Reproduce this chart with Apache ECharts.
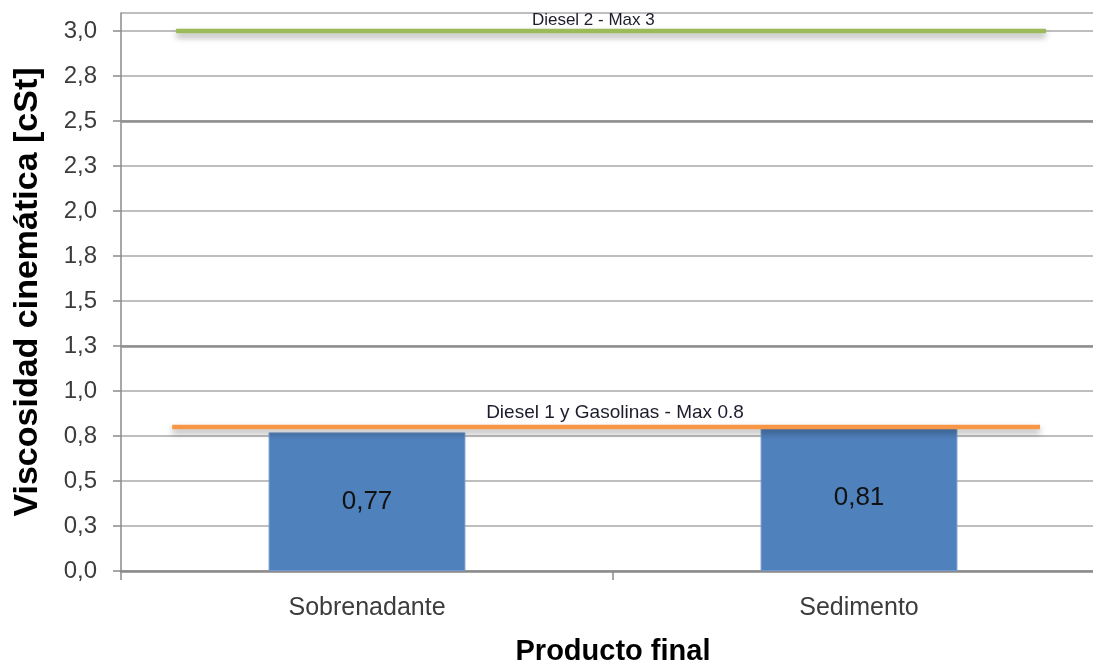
<!DOCTYPE html>
<html>
<head>
<meta charset="utf-8">
<script src="https://cdn.jsdelivr.net/npm/echarts@6/dist/echarts.min.js"></script>
<style>
  html, body { margin: 0; padding: 0; background: #ffffff; }
  #chart { width: 1093px; height: 664px; }
</style>
</head>
<body>
<div id="chart"></div>
<script>
// Kinematic viscosity of the final product fractions
const categories = ['Sobrenadante', 'Sedimento'];
const viscosity = [0.77, 0.81];

// Y-axis tick labels (0.25 steps, shown with one decimal)
const yTickStep = 0.25;
const yTickLabels = ['0,0', '0,3', '0,5', '0,8', '1,0', '1,3', '1,5', '1,8', '2,0', '2,3', '2,5', '2,8', '3,0'];

// Specification limits
const limitNames = ['Diesel 1 y Gasolinas - Max 0.8', 'Diesel 2 - Max 3'];
const limitValues = [0.8, 3];

const FONT = '"Liberation Sans", Arial, sans-serif';
const limitColors = ['#F79646', '#9BBB59'];
// horizontal span of each limit line and label anchor, as fractions of the plot width
const limitSpan = [[0.052, 0.934, 0.502], [0.056, 0.940, 0.480]];
const limitLabelFont = [19, 17];
const limitLabelGap = [5, 2];

const limitSeries = limitValues.map((v, i) => ({
  type: 'line',
  xAxisIndex: 1,
  yAxisIndex: 0,
  symbol: 'none',
  silent: true,
  z: 5,
  data: [[limitSpan[i][0], v], [limitSpan[i][1], v]],
  lineStyle: {
    color: limitColors[i],
    width: 4.5,
    shadowColor: 'rgba(0,0,0,0.35)',
    shadowBlur: 6,
    shadowOffsetY: 4
  },
  markPoint: {
    silent: true,
    symbol: 'circle',
    symbolSize: 0,
    data: [{
      coord: [limitSpan[i][2], v],
      label: {
        show: true,
        position: 'top',
        distance: limitLabelGap[i],
        formatter: limitNames[i],
        fontFamily: FONT,
        fontSize: limitLabelFont[i],
        color: '#1c1c2c'
      }
    }]
  }
}));

const chart = echarts.init(document.getElementById('chart'), null, { renderer: 'canvas' });

chart.setOption({
  backgroundColor: '#ffffff',
  animation: false,
  grid: { left: 121, width: 984, top: 13, bottom: 93, containLabel: false, outerBoundsMode: 'none' },
  xAxis: [{
    type: 'category',
    data: categories,
    name: 'Producto final',
    nameLocation: 'middle',
    nameGap: 66,
    nameTextStyle: { fontFamily: FONT, fontSize: 29, fontWeight: 'bold', color: '#000000' },
    axisLine: { lineStyle: { color: '#8a8a8a', width: 2.5 } },
    axisTick: { show: true, length: 9, lineStyle: { color: '#8a8a8a', width: 1.5 } },
    axisLabel: { fontFamily: FONT, fontSize: 25, color: '#3c3c3c', margin: 25 },
    splitLine: { show: false }
  }, {
    type: 'value',
    min: 0,
    max: 1,
    show: false
  }],
  yAxis: {
    type: 'value',
    min: 0,
    max: 3.1,
    interval: yTickStep,
    name: 'Viscosidad cinemática [cSt]',
    nameLocation: 'middle',
    nameGap: 76,
    nameTextStyle: { fontFamily: FONT, fontSize: 34, fontWeight: 'bold', color: '#000000' },
    axisLine: { show: true, lineStyle: { color: '#8a8a8a', width: 1.5 } },
    axisTick: { show: true, length: 8, lineStyle: { color: '#8a8a8a', width: 1.5 } },
    axisLabel: {
      fontFamily: FONT,
      fontSize: 24,
      color: '#3c3c3c',
      margin: 24,
      showMaxLabel: false,
      formatter: v => {
        const idx = Math.round(v / yTickStep);
        return Math.abs(idx * yTickStep - v) < 1e-6 && idx < yTickLabels.length ? yTickLabels[idx] : '';
      }
    },
    splitLine: { show: true, lineStyle: { color: '#a9a9a9', width: 1.5 } }
  },
  series: [{
    type: 'bar',
    data: viscosity,
    barWidth: '40%',
    itemStyle: { color: '#4F81BD', borderColor: '#6f9bd0', borderWidth: 1 },
    label: {
      show: true,
      position: 'inside',
      fontFamily: FONT,
      fontSize: 26,
      color: '#111111',
      formatter: p => p.value.toFixed(2).replace('.', ',')
    },
    markLine: {
      silent: true,
      symbol: 'none',
      label: { show: false },
      lineStyle: { color: '#8e8e8e', width: 2.5, type: 'solid' },
      data: [{ yAxis: 2.5 }, { yAxis: 1.25 }]
    }
  }].concat(limitSeries)
});
</script>
</body>
</html>
